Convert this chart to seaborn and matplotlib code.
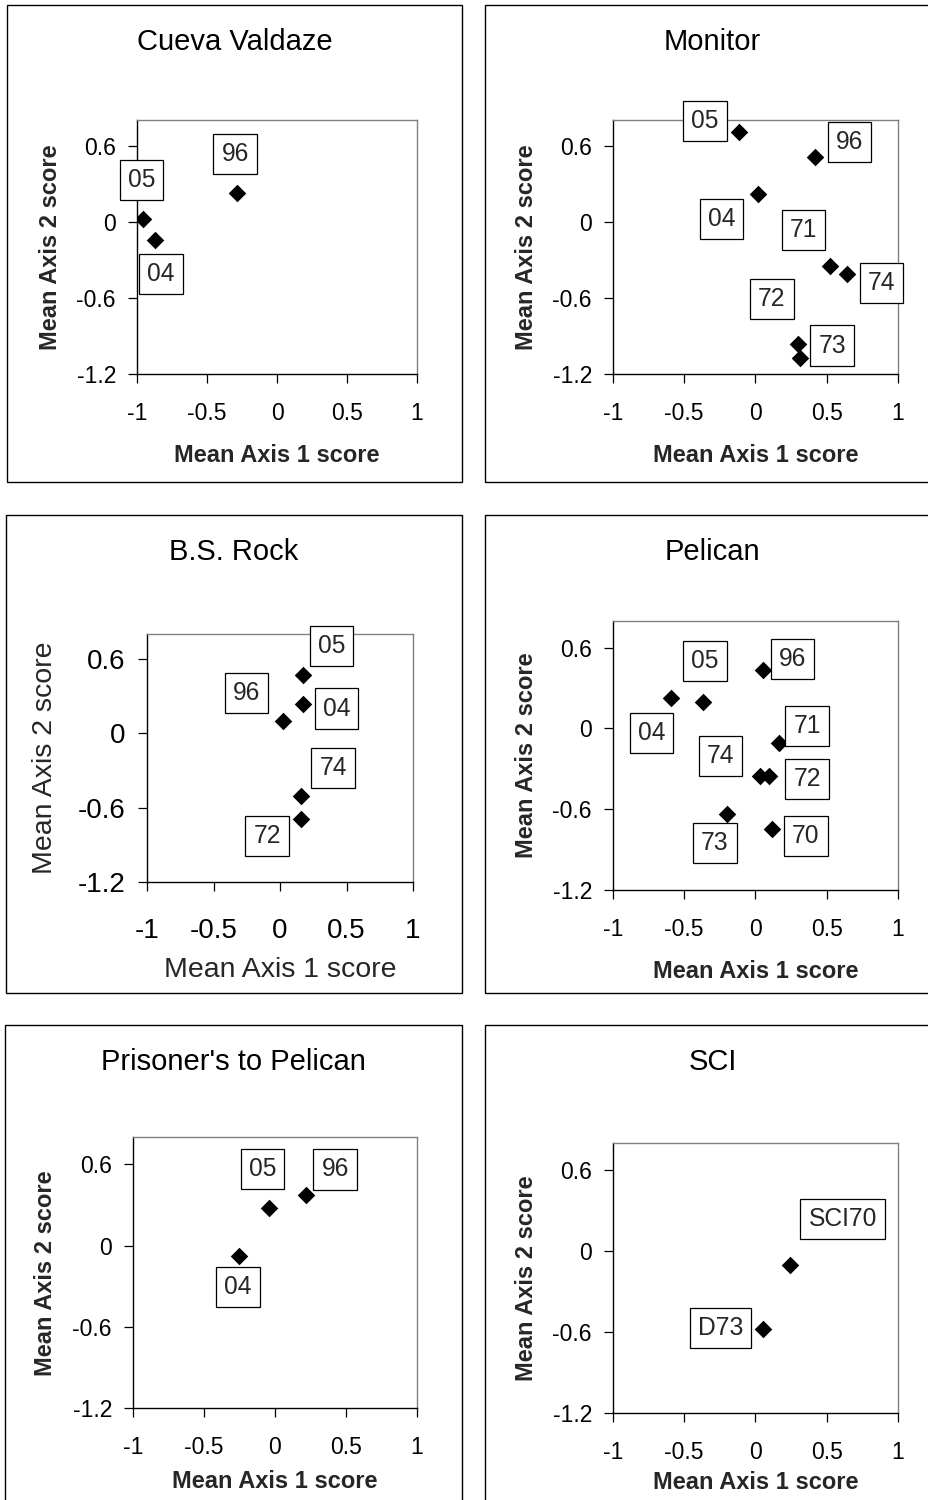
import matplotlib
matplotlib.use("Agg")
import matplotlib.pyplot as plt
from matplotlib.patches import Rectangle
import seaborn as sns
import pandas as pd

# Mean ordination scores (Axis 1, Axis 2) for each survey at each site
cueva_years = ["05", "04", "96"]
cueva_axis1 = [-0.96, -0.87, -0.285]
cueva_axis2 = [0.02, -0.14, 0.23]

monitor_years = ["05", "96", "04", "71", "74", "73", "72"]
monitor_axis1 = [-0.115, 0.42, 0.015, 0.52, 0.645, 0.30, 0.31]
monitor_axis2 = [0.71, 0.515, 0.22, -0.345, -0.41, -0.96, -1.075]

bsrock_years = ["05", "04", "96", "74", "72"]
bsrock_axis1 = [0.17, 0.17, 0.02, 0.16, 0.16]
bsrock_axis2 = [0.47, 0.24, 0.10, -0.505, -0.69]

pelican_years = ["96", "04", "05", "71", "74", "72", "73", "70"]
pelican_axis1 = [0.05, -0.59, -0.37, 0.165, 0.035, 0.095, -0.20, 0.115]
pelican_axis2 = [0.435, 0.225, 0.195, -0.105, -0.355, -0.355, -0.635, -0.745]

prisoners_years = ["04", "05", "96"]
prisoners_axis1 = [-0.255, -0.045, 0.22]
prisoners_axis2 = [-0.075, 0.275, 0.37]

sci_sites = ["SCI70", "D73"]
sci_axis1 = [0.24, 0.055]
sci_axis2 = [-0.105, -0.58]

site_titles = ["Cueva Valdaze", "Monitor", "B.S. Rock", "Pelican",
               "Prisoner's to Pelican", "SCI"]

x_ticks = [-1, -0.5, 0, 0.5, 1]
x_tick_labels = ["-1", "-0.5", "0", "0.5", "1"]
y_ticks = [-1.2, -0.6, 0, 0.6]
y_tick_labels = ["-1.2", "-0.6", "0", "0.6"]
x_limits = (-1, 1)
y_limits = (-1.2, 0.8)
x_title = "Mean Axis 1 score"
y_title = "Mean Axis 2 score"

sns.set_theme(style="white")
plt.rcParams["font.family"] = ["Liberation Sans", "DejaVu Sans"]
plt.rcParams["axes.unicode_minus"] = False

W, H = 929, 1500
DPI = 100
fig = plt.figure(figsize=(W / DPI, H / DPI), dpi=DPI)
fig.patch.set_facecolor("white")


def fig_rect(l, t, r, b):
    """Pixel box (y downwards) -> figure fraction rect."""
    return [l / W, 1 - b / H, (r - l) / W, (b - t) / H]


# Panel layout in pixels: outer frame, plot area, label offsets, text styling
panels = [
    dict(data=(cueva_years, cueva_axis1, cueva_axis2),
         frame=(7, 5, 462, 482), area=(137, 120.5, 417, 374),
         offsets=[(-1, 39), (6, -34), (-2, 39)],
         tick_size=16.5, title_size=17, weight="bold",
         xpad=13.7, ypad=8.7, xlab_drop=88, ylab_gap=80),
    dict(data=(monitor_years, monitor_axis1, monitor_axis2),
         frame=(485, 5, 940, 482), area=(613, 120.5, 898, 374),
         offsets=[(-34, 11), (34, 15), (-36, -25), (-26, 36), (34, -9),
                  (34, -2), (-28, 59)],
         tick_size=16.5, title_size=17, weight="bold",
         xpad=13.7, ypad=8.7, xlab_drop=88.5, ylab_gap=80),
    dict(data=(bsrock_years, bsrock_axis1, bsrock_axis2),
         frame=(6, 515, 462, 993), area=(147, 634, 413, 882.3),
         offsets=[(29, 29), (34, -5), (-36, 28), (32, 28), (-34, -17)],
         tick_size=20, title_size=20.5, weight="normal",
         xpad=19.4, ypad=9.0, xlab_drop=95, ylab_gap=95),
    dict(data=(pelican_years, pelican_axis1, pelican_axis2),
         frame=(485, 515, 940, 993), area=(613, 620.8, 898, 890),
         offsets=[(30, 11), (-20, -35), (2, 41), (28, 17), (-40, 20),
                  (38, -3), (-12, -29), (34, -7)],
         tick_size=16.5, title_size=17, weight="bold",
         xpad=13.7, ypad=8.7, xlab_drop=88, ylab_gap=80),
    dict(data=(prisoners_years, prisoners_axis1, prisoners_axis2),
         frame=(5, 1025, 462, 1510), area=(133, 1137.2, 417, 1408.3),
         offsets=[(-1, -31), (-6, 39), (29, 26)],
         tick_size=16.5, title_size=17, weight="bold",
         xpad=13.7, ypad=8.7, xlab_drop=80, ylab_gap=81),
    dict(data=(sci_sites, sci_axis1, sci_axis2),
         frame=(485, 1025, 940, 1510), area=(613, 1143.4, 898, 1412.7),
         offsets=[(53, 46), (-43, 1)],
         tick_size=16.5, title_size=17, weight="bold",
         xpad=13.7, ypad=8.7, xlab_drop=76, ylab_gap=80),
]

for title, p in zip(site_titles, panels):
    names, a1, a2 = p["data"]
    df = pd.DataFrame({"survey": names, "axis1": a1, "axis2": a2})

    # outer frame around each site panel
    fl, ft, fr, fb = p["frame"]
    fig.add_artist(Rectangle((fl / W, 1 - fb / H), (fr - fl) / W, (fb - ft) / H,
                             transform=fig.transFigure, fill=False,
                             edgecolor="black", linewidth=1.0))
    fig.text((fl + fr) / 2 / W, 1 - (ft + 45) / H, title, ha="center",
             va="baseline", fontsize=21, color="black")

    l, t, r, b = p["area"]
    ax = fig.add_axes(fig_rect(l, t, r, b))
    ax.set_facecolor("white")
    sns.scatterplot(data=df, x="axis1", y="axis2", ax=ax, marker="D", s=80,
                    color="black", edgecolor="black", linewidth=0, zorder=4,
                    legend=False)

    ax.set_xlim(*x_limits)
    ax.set_ylim(*y_limits)
    ax.set_xticks(x_ticks)
    ax.set_xticklabels(x_tick_labels)
    ax.set_yticks(y_ticks)
    ax.set_yticklabels(y_tick_labels)
    ax.tick_params(axis="x", direction="out", length=6.5, width=0.9,
                   pad=p["xpad"], labelsize=p["tick_size"], colors="black",
                   bottom=True)
    ax.tick_params(axis="y", direction="out", length=6.5, width=0.9,
                   pad=p["ypad"], labelsize=p["tick_size"], colors="black",
                   left=True)
    ax.grid(False)

    for side in ("left", "bottom"):
        ax.spines[side].set_color("black")
        ax.spines[side].set_linewidth(1.0)
    for side in ("top", "right"):
        ax.spines[side].set_color("#808080")
        ax.spines[side].set_linewidth(1.0)

    h_px = b - t
    w_px = r - l
    ax.set_xlabel(x_title, fontsize=p["title_size"], fontweight=p["weight"])
    ax.xaxis.set_label_coords(0.5, -p["xlab_drop"] / h_px)
    ax.xaxis.label.set_va("baseline")
    ax.set_ylabel(y_title, fontsize=p["title_size"], fontweight=p["weight"])
    ax.yaxis.set_label_coords(-p["ylab_gap"] / w_px, 0.5)
    ax.yaxis.label.set_rotation_mode("anchor")
    ax.yaxis.label.set_va("baseline")
    ax.yaxis.label.set_ha("center")

    # boxed survey labels next to each point
    for name, x, y, off in zip(names, a1, a2, p["offsets"]):
        ax.annotate(name, (x, y), xytext=off, textcoords="offset pixels",
                    ha="center", va="center", fontsize=17.7, zorder=5,
                    annotation_clip=False,
                    bbox=dict(boxstyle="square,pad=0.33", facecolor="white",
                              edgecolor="black", linewidth=0.9))

fig.savefig("out.png", dpi=DPI, facecolor="white")
